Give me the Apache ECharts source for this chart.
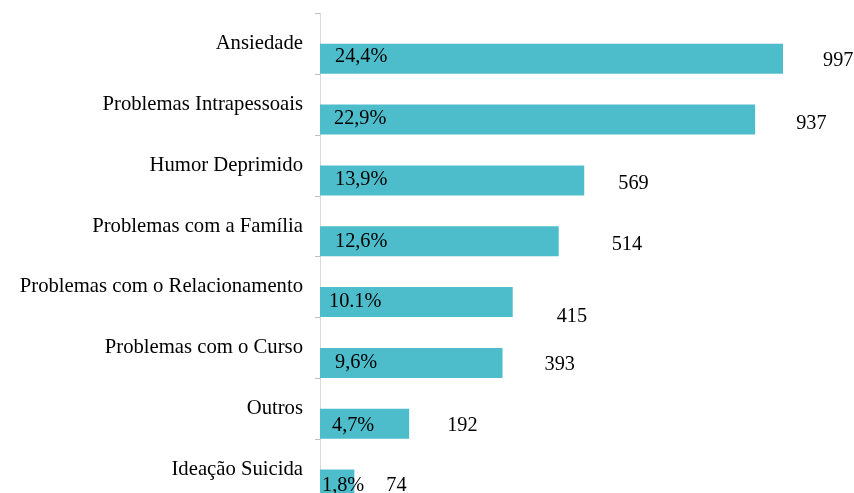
<!DOCTYPE html>
<html>
<head>
<meta charset="utf-8">
<script src="https://cdn.jsdelivr.net/npm/echarts@6/dist/echarts.min.js"></script>
<style>html,body{margin:0;padding:0;background:#fff;overflow:hidden;width:854px;height:493px;}#c{width:854px;height:500px;}</style>
</head>
<body>
<div id="c"></div>
<script>
const categories = ['Ansiedade','Problemas Intrapessoais','Humor Deprimido','Problemas com a Família','Problemas com o Relacionamento','Problemas com o Curso','Outros','Ideação Suicida'];
const counts = [997, 937, 569, 514, 415, 393, 192, 74];
const percents = ['24,4%','22,9%','13,9%','12,6%','10.1%','9,6%','4,7%','1,8%'];

// label placement (style only)
const countLabelOffsets = [[40,2],[41,4],[34,3],[53,3],[44,14],[42,2],[38,2],[32,1]];
const pctLabelOffsets = [[15,-2],[14,-1],[15,-1],[15,0],[9,0],[15,0],[12,2],[2,1]];
const BAR_SHIFT = 15.2; // bar center sits below band center

const FONT = '"Liberation Serif", "Times New Roman", serif';
const chart = echarts.init(document.getElementById('c'));

const barData = counts.map((v, i) => ({
  value: v,
  label: {
    show: true,
    position: 'insideLeft',
    distance: 0,
    offset: pctLabelOffsets[i],
    formatter: percents[i],
    fontFamily: FONT,
    fontSize: 20.3,
    color: '#000'
  }
}));
const countData = counts.map((v, i) => ({
  value: [v, categories[i]],
  label: {
    show: true,
    position: 'right',
    distance: 0,
    offset: [countLabelOffsets[i][0], countLabelOffsets[i][1] + BAR_SHIFT],
    formatter: String(v),
    fontFamily: FONT,
    fontSize: 20.3,
    color: '#000',
    opacity: 1
  }
}));

chart.setOption({
  animation: false,
  backgroundColor: '#fff',
  grid: { left: 320, right: 69.6, top: 13.3, bottom: 0, containLabel: false },
  xAxis: { type: 'value', min: 0, max: 1000, show: false, splitLine: { show: false } },
  yAxis: {
    type: 'category',
    data: categories,
    inverse: true,
    axisLine: { show: true, lineStyle: { color: '#D9D9D9', width: 1 } },
    axisTick: { show: true, length: 5, lineStyle: { color: '#BFBFBF' } },
    axisLabel: { fontFamily: FONT, fontSize: 20.7, color: '#000', margin: 17, padding: [4, 0, 0, 0] }
  },
  series: [
    { type: 'bar', name: 'spacer', data: counts.map(() => '-'), barWidth: 30, barGap: '0%', silent: true },
    {
      type: 'bar', name: 'count', barWidth: 30, barGap: '0%',
      itemStyle: { color: '#4EBDCB' },
      data: barData
    },
    {
      type: 'scatter', name: 'countLabel', symbolSize: 0, silent: true,
      itemStyle: { opacity: 1 },
      data: countData
    }
  ]
});
</script>
</body>
</html>
